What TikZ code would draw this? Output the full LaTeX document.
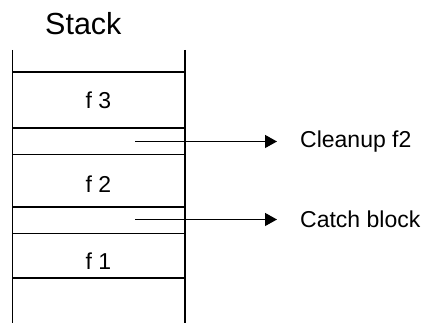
\documentclass[tikz,border=0pt]{standalone}
\usepackage{fontspec}
\setmainfont{Liberation Sans}
\usetikzlibrary{arrows.meta}
\begin{document}
\begin{tikzpicture}[x=1pt,y=-1pt,
  wall/.style={line width=1.6pt},
  sep/.style={line width=1.6pt},
  frame/.style={font=\fontsize{23}{26}\selectfont, inner sep=0pt},
  ptr/.style={line width=1.3pt, -{Triangle[length=12pt,width=13pt]}},
  lbl/.style={font=\fontsize{23}{26}\selectfont, anchor=west, inner xsep=23pt, inner ysep=0pt}]
  \useasboundingbox (0,0) rectangle (424,323);
  % title
  \node[font=\fontsize{30.5}{34}\selectfont, inner sep=0pt, anchor=base west] (title) at (45,34.3) {Stack};
  % stack walls
  \coordinate (tl) at (12.5,50);
  \coordinate (bl) at (12.5,323);
  \coordinate (tr) at (185,50);
  \coordinate (br) at (185,323);
  \draw[wall] (tl) -- (bl);
  \draw[wall] (tr) -- (br);
  % frame boundaries
  \foreach \y in {72,128,154.5,207,233.5,278}
    \draw[sep] (12.5,\y) -- (185,\y);
  % frame labels
  \node[frame] (f3) at (98.5,100) {f 3};
  \node[frame] (f2) at (98.5,184) {f 2};
  \node[frame] (f1) at (98.5,261) {f 1};
  % pointers to handlers
  \coordinate (p1) at (135,141.5);
  \coordinate (p2) at (135,219.5);
  \node[lbl] (cleanup) at (277,141.5) {Cleanup f2};
  \node[lbl] (catch) at (277,219.5) {Catch block};
  \draw[ptr] (p1) -- (cleanup.west);
  \draw[ptr] (p2) -- (catch.west);
\end{tikzpicture}
\end{document}
